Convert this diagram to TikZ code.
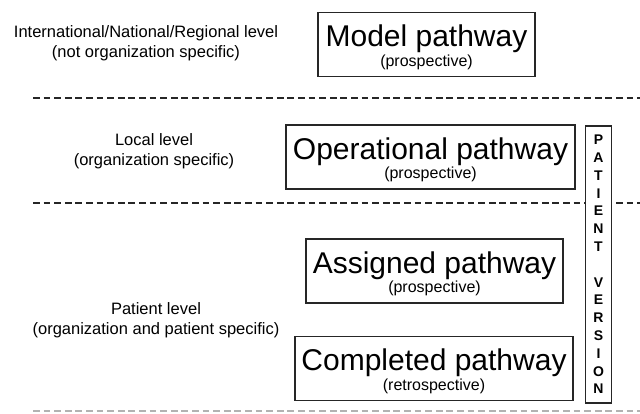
\documentclass[tikz,border=0pt]{standalone}
\usepackage{fontspec}
\setmainfont{Liberation Sans}
\usetikzlibrary{positioning}

\tikzset{
  pathbox/.style={draw=black!85, line width=1.1pt, minimum height=64pt, inner sep=0pt},
  bigtxt/.style={font=\fontsize{30}{30}\selectfont, anchor=base, inner sep=0pt},
  smalltxt/.style={font=\fontsize{16}{16}\selectfont, anchor=base, inner sep=0pt},
  leveltxt/.style={font=\fontsize{16.5}{19.5}\selectfont, align=center, inner sep=0pt},
  levelline/.style={line width=2.8pt, dash pattern=on 6.8pt off 3.8pt, black!85},
}

\begin{document}
\begin{tikzpicture}[x=1pt,y=-1pt]
        \useasboundingbox (0,0) rectangle (640,414);
        % level separators
        \draw[levelline] (33,98) -- (640,98);
        \draw[levelline] (33,203) -- (640,203);
        \draw[levelline, black!30, line width=1.4pt] (33,411) -- (640,411);
        % level labels
        \node[leveltxt] (intl) at (146,43) {International/National/Regional level\\(not organization specific)};
        \node[leveltxt] (local) at (154,151) {Local level\\(organization specific)};
        \node[leveltxt] (patient) at (156,320) {Patient level\\(organization and patient specific)};
        % pathways
        \node[pathbox, minimum width=217pt] (model) at (426.5,44.5) {};
        \node[pathbox, minimum width=289pt] (oper) at (430.5,157) {};
        \node[pathbox, minimum width=257pt] (assign) at (434.5,271) {};
        \node[pathbox, minimum width=278pt] (compl) at (434,368.5) {};
        \node[bigtxt] (modeltitle) at ([yshift=-35pt]model.north) {Model pathway};
        \node[smalltxt] (modelsub) at ([yshift=-54.5pt]model.north) {(prospective)};
        \node[bigtxt] (opertitle) at ([yshift=-35pt]oper.north) {Operational pathway};
        \node[smalltxt] (opersub) at ([yshift=-54.5pt]oper.north) {(prospective)};
        \node[bigtxt] (assigntitle) at ([yshift=-35pt]assign.north) {Assigned pathway};
        \node[smalltxt] (assignsub) at ([yshift=-54.5pt]assign.north) {(prospective)};
        \node[bigtxt] (compltitle) at ([yshift=-35pt]compl.north) {Completed pathway};
        \node[smalltxt] (complsub) at ([yshift=-54.5pt]compl.north) {(retrospective)};
        % patient version bar
        \node[draw=black!85, line width=1.1pt, fill=white, minimum width=26pt, minimum height=277pt,
              inner sep=0pt, align=center, font=\fontsize{14}{17.8}\selectfont\bfseries] (version) at (598.5,264.5)
              {P\\A\\T\\I\\E\\N\\T\\[17.8pt]V\\E\\R\\S\\I\\O\\N};
    \end{tikzpicture}
\end{document}
